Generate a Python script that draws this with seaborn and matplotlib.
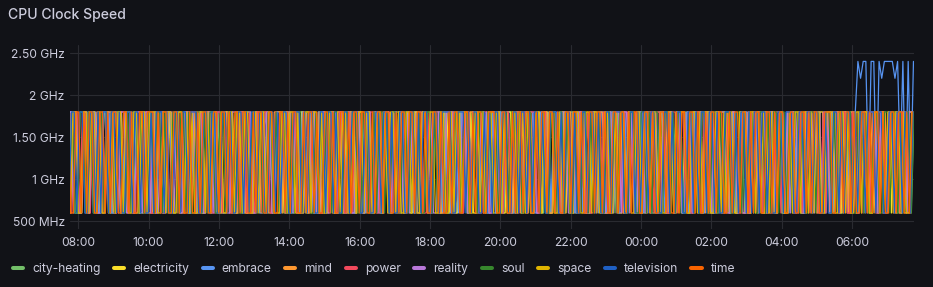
import matplotlib
matplotlib.use("Agg")
import matplotlib.pyplot as plt
import matplotlib.dates as mdates
from matplotlib.lines import Line2D
import seaborn as sns
import pandas as pd

# ---------------- data ----------------
START = "2024-01-01 07:46"
END = "2024-01-02 07:46"

series_names = ["city-heating", "electricity", "embrace", "mind", "power",
                "reality", "soul", "space", "television", "time"]
series_colors = ["#73BF69", "#FADE2A", "#5794F2", "#FF9830", "#F2495C",
                 "#B877D9", "#37872D", "#E0B400", "#1F60C4", "#FA6400"]
# each host is scraped at its own moment within the sampling interval (minutes)
series_offset_min = [0.0, 2.3, 0.9, 3.6, 1.4, 2.9, 0.4, 4.0, 1.8, 3.2]

ytick_values = [0.5, 1.0, 1.5, 2.0, 2.5]
ytick_labels = ["500 MHz", "1 GHz", "1.50 GHz", "2 GHz", "2.50 GHz"]

city_heating = [
    1.8,1.8,0.6,0.6,0.6,1.8,0.6,1.8,1.8,1.8,0.6,0.6,1.2,1.8,1.8,0.6,
    0.6,1.8,1.8,0.6,0.6,1.8,1.8,1.8,0.6,1.8,0.6,0.6,0.6,1.8,1.8,0.6,
    1.8,1.8,1.8,0.6,0.6,1.5,1.8,0.6,0.6,1.8,1.8,0.6,1.8,1.8,0.6,0.6,
    0.6,1.8,0.6,0.6,1.8,1.8,1.8,0.6,1.8,0.6,0.6,1.8,1.8,0.6,0.6,0.6,
    1.8,1.8,0.6,1.8,1.8,0.6,0.6,1.0,1.8,1.8,0.6,0.6,1.8,0.6,1.8,1.8,
    1.8,0.6,0.6,1.8,0.6,0.6,1.8,1.8,1.8,0.6,1.8,1.8,0.6,0.6,1.8,0.6,
    0.6,0.6,1.8,1.8,0.6,1.8,1.8,0.6,0.6,0.6,1.8,1.4,0.6,1.8,1.8,1.8,
    0.6,1.8,0.6,0.6,1.8,1.8,0.6,1.8,1.8,0.6,0.6,1.8,1.8,1.8,0.6,0.6,
    1.8,0.6,1.8,1.8,0.6,0.6,0.6,1.8,1.8,0.6,1.8,0.6,0.6,1.8,1.8,0.6,
    1.8,1.8,0.6,0.9,1.8,1.8,0.6,0.6,1.8,1.8,1.8,0.6,1.8,0.6,0.6,1.8,
    0.6,0.6,1.8,1.8,0.6,1.8,1.8,1.8,0.6,0.6,1.8,0.6,1.8,1.8,0.6,0.6,
    1.8,1.8,0.6,0.6,1.8,0.6,0.6,1.8,1.6,1.8,0.6,0.6,1.8,1.8,1.8,0.6,
    0.6,1.8,1.8,0.6,0.6,1.8,1.8,0.6,1.8,0.6,0.6,0.6,1.8,1.8,0.6,1.8,
    1.8,0.6,0.6,1.8,1.8,1.8,0.6,1.8,1.8,0.6,0.6,1.8,0.6,0.6,1.8,1.8,
    0.6,1.8,1.8,0.6,1.2,1.8,1.8,0.6,0.6,1.8,1.8,0.6,1.8,1.8,0.6,0.6,
    1.8,0.6,1.8,1.8,0.6,0.6,1.8,1.8,1.8,0.6,0.6,1.8,0.6,1.8,1.8,0.6,
    0.6,0.6,1.8,0.6,1.8,1.8,0.6,0.6,1.8,1.8,0.6,1.8,1.8,0.6,0.6,1.8,
    1.8,1.8,0.6,1.8,0.6,0.6,1.8,1.8,0.6,1.5,1.8,0.6,0.6,1.8,1.8,0.6,
    0.6,1.8,1.8,0.6,0.6,1.8,0.6,1.8,1.8,0.6,0.6,1.8,1.8,1.8,0.6,0.6,
    1.8,0.6,0.6,1.8,1.8,0.6,1.8,1.8,0.6,0.6,1.8,1.8,0.6,1.8,0.6,1.8,
]
electricity = [
    0.6,1.8,1.8,1.8,0.6,0.6,1.8,0.6,0.6,1.8,1.8,1.5,0.6,1.8,1.8,0.6,
    1.8,0.6,0.6,1.8,1.8,0.6,1.8,1.8,0.6,0.6,0.6,1.8,1.8,0.6,1.8,1.8,
    0.6,0.6,1.8,1.2,0.6,1.8,1.8,0.6,1.8,1.8,0.6,0.6,1.8,0.6,0.6,1.8,
    1.8,1.8,0.6,0.6,1.8,1.8,0.6,1.8,0.6,0.6,1.8,1.8,1.8,0.6,1.8,0.6,
    0.6,1.8,1.8,0.6,0.6,0.6,1.8,1.8,0.6,1.8,0.6,1.8,1.8,0.6,0.9,1.8,
    1.8,0.6,1.8,1.8,0.6,1.8,0.6,0.6,1.8,1.8,0.6,0.6,1.8,1.8,0.6,0.6,
    1.8,1.8,0.6,1.8,1.8,0.6,0.6,1.8,0.6,1.8,1.8,1.8,0.6,0.6,1.8,0.6,
    0.6,1.8,1.8,0.6,1.8,1.6,0.6,0.6,1.8,1.8,0.6,1.8,0.6,1.8,1.8,0.6,
    1.8,0.6,0.6,1.8,1.8,0.6,1.8,1.8,0.6,0.6,1.8,1.8,0.6,0.6,1.8,1.8,
    0.6,1.8,0.6,0.6,1.8,1.8,1.8,0.6,1.8,0.6,0.6,1.8,1.8,0.6,1.8,0.6,
    1.8,1.8,0.6,1.8,0.6,0.6,1.8,1.8,0.6,1.8,1.3,0.6,0.6,1.8,1.8,0.6,
    0.6,1.8,1.8,0.6,1.8,1.8,0.6,0.6,1.8,0.6,1.8,1.8,0.6,1.8,0.6,0.6,
    1.8,0.6,1.8,1.8,0.6,0.6,1.8,1.8,1.8,0.6,0.6,1.8,1.8,0.6,1.8,1.8,
    0.6,0.6,1.8,0.6,1.8,1.8,0.6,1.8,0.6,0.6,1.8,1.8,0.6,1.8,1.8,0.6,
    1.8,1.8,0.6,0.6,1.8,0.6,1.8,1.8,0.6,1.8,0.6,0.6,1.8,1.8,0.6,1.8,
    0.6,1.8,1.8,0.6,0.6,1.8,1.8,0.6,1.8,1.8,0.6,1.8,0.6,0.6,1.8,1.8,
    1.8,0.6,0.6,1.8,1.8,1.8,0.6,0.6,1.8,0.6,1.8,1.8,0.6,1.8,0.6,0.6,
    0.6,1.8,1.8,0.6,1.8,0.6,0.6,1.8,1.8,0.6,1.8,0.6,1.8,1.8,0.6,1.8,
    1.8,0.6,1.8,1.8,0.6,1.8,1.8,0.6,0.6,1.8,0.6,1.8,1.8,0.6,1.8,0.6,
    0.6,1.8,0.6,1.8,1.8,0.6,1.8,0.6,1.8,1.8,0.6,0.6,1.8,1.8,0.6,1.8,
]
embrace = [
    1.8,1.8,0.6,0.6,1.8,1.8,0.6,1.8,1.8,0.6,1.8,0.6,0.6,1.8,1.8,1.8,
    0.6,0.6,1.8,1.8,0.6,1.8,1.2,0.6,1.8,1.8,0.6,0.6,1.8,0.6,1.8,1.8,
    1.8,0.6,1.8,0.6,0.6,1.8,1.8,0.6,1.8,1.8,0.6,1.8,1.8,0.6,0.6,1.8,
    0.6,1.8,1.8,0.6,1.8,0.6,0.6,1.8,1.8,1.8,0.6,0.6,1.8,1.8,0.6,1.8,
    1.8,0.6,0.6,1.8,1.8,0.6,1.8,1.8,0.6,0.6,1.8,1.5,1.8,0.6,1.8,0.6,
    0.6,1.8,1.8,0.6,0.6,1.8,1.8,0.6,1.8,1.8,0.6,1.8,0.6,0.6,1.8,1.8,
    1.8,0.6,1.8,1.8,0.6,0.6,1.8,1.8,0.6,1.8,1.8,0.6,0.6,1.8,0.6,1.8,
    0.6,1.8,0.6,1.8,1.8,0.6,0.6,1.8,1.8,0.6,1.8,1.8,0.6,1.8,1.8,0.6,
    1.8,1.8,0.6,0.6,1.8,1.8,0.6,1.8,0.6,0.6,1.8,1.8,1.8,0.6,1.8,0.6,
    0.6,1.8,1.8,0.6,1.8,0.6,1.8,1.8,0.6,1.0,1.8,0.6,1.8,1.8,0.6,0.6,
    1.8,0.6,1.8,1.8,0.6,1.8,1.8,0.6,0.6,1.8,1.8,0.6,1.8,0.6,1.8,1.8,
    0.6,0.6,1.8,1.8,0.6,1.8,0.6,1.8,1.8,0.6,0.6,1.8,1.8,0.6,1.8,0.6,
    1.8,1.8,0.6,1.8,0.6,0.6,1.8,1.8,0.6,1.8,1.8,0.6,0.6,1.8,1.8,0.6,
    0.6,1.8,1.8,0.6,1.8,1.8,0.6,0.6,1.8,0.6,1.8,1.8,0.6,1.8,0.6,1.8,
    1.8,0.6,0.6,1.8,1.8,0.6,1.8,1.8,0.6,1.8,0.6,0.6,1.8,1.8,1.8,0.6,
    0.6,1.8,1.8,0.6,0.6,1.8,1.8,0.6,1.8,1.8,0.6,1.8,0.6,0.6,1.8,1.8,
    1.8,0.6,1.8,1.8,0.6,1.8,0.6,1.8,1.8,0.6,1.8,0.6,1.8,1.8,0.6,1.8,
    0.6,1.8,1.8,0.6,1.8,0.6,0.6,1.8,1.8,0.6,1.8,1.8,0.6,1.8,0.6,1.8,
    1.8,0.6,1.8,0.6,1.8,1.8,0.6,1.8,0.6,1.8,2.4,2.2,2.4,2.4,1.0,2.4,
    2.4,0.9,2.4,2.2,2.4,2.4,2.4,2.4,2.2,2.4,1.2,2.4,0.8,2.4,1.0,2.4,
]
mind = [
    1.8,0.6,1.8,1.8,0.6,0.6,1.8,1.8,0.6,1.8,0.6,1.8,1.8,0.6,0.6,1.8,
    1.8,1.8,0.6,1.8,0.6,0.6,1.8,1.4,0.6,1.8,1.8,0.6,1.8,1.8,0.6,0.6,
    0.6,1.8,1.8,0.6,1.8,1.8,0.6,0.6,1.8,1.8,0.6,1.8,0.6,1.8,1.8,0.6,
    1.8,0.6,0.6,1.8,1.8,0.6,1.8,1.8,1.8,0.6,0.6,1.8,1.8,0.6,1.8,0.6,
    0.6,1.8,1.8,0.6,0.6,1.8,0.6,1.8,1.8,0.6,1.8,1.8,0.6,0.6,1.8,1.8,
    1.8,0.6,1.8,1.8,0.6,1.8,1.8,0.6,0.6,1.8,1.2,0.6,1.8,1.8,0.6,1.8,
    0.6,0.6,1.8,1.8,0.6,0.6,1.8,1.8,0.6,1.8,0.6,1.8,1.8,0.6,1.8,1.8,
    1.8,1.8,0.6,0.6,1.8,1.8,0.6,1.8,1.8,0.6,0.6,1.8,0.6,1.8,1.8,0.6,
    0.6,1.8,1.8,0.6,1.8,0.6,1.8,1.8,0.6,0.6,1.8,1.8,1.8,0.6,0.6,1.8,
    1.8,0.6,0.6,1.8,1.8,0.6,1.8,0.6,1.8,1.8,0.6,0.6,1.8,1.8,0.6,1.8,
    1.8,1.8,0.6,1.8,0.6,1.8,1.8,0.6,0.6,1.8,1.8,0.6,1.8,0.6,0.6,1.8,
    0.6,1.8,1.8,0.6,1.8,1.8,0.6,0.6,1.8,0.6,1.8,1.8,0.6,1.8,1.8,0.6,
    1.8,0.6,1.8,1.8,0.6,0.6,1.8,1.8,0.6,1.8,1.8,0.6,0.6,1.8,0.6,1.8,
    1.8,1.8,0.6,0.6,1.8,1.8,0.6,1.8,1.8,0.6,1.8,0.6,1.8,1.8,0.6,0.6,
    0.6,1.8,1.8,0.6,1.8,0.6,0.6,1.8,1.8,1.8,0.6,1.8,0.6,0.6,1.8,1.8,
    1.8,0.6,1.8,1.8,0.6,1.8,1.8,0.6,0.6,1.8,0.6,1.8,1.8,0.6,1.8,0.6,
    0.6,1.8,0.6,1.8,1.8,0.6,1.8,1.8,0.6,0.6,1.8,1.8,0.6,1.8,1.8,0.6,
    1.8,1.8,0.6,0.6,1.8,1.8,0.6,1.8,0.6,1.8,1.8,0.6,1.8,0.6,0.6,1.8,
    0.6,1.8,1.8,0.6,0.6,1.8,1.8,0.6,1.8,1.8,0.6,1.8,0.6,1.8,1.8,0.6,
    1.8,0.6,1.8,1.8,0.6,1.8,0.6,1.8,1.8,0.6,1.8,1.8,0.6,0.6,1.8,1.8,
]
power = [
    0.6,0.6,1.8,1.8,0.6,1.8,1.8,0.6,0.6,1.8,0.6,1.8,1.8,0.6,1.8,0.6,
    1.8,0.6,0.6,1.8,1.8,1.8,0.6,1.8,0.6,0.6,1.8,1.8,0.6,1.8,1.8,0.6,
    0.6,1.8,1.8,0.6,0.6,1.8,0.6,1.8,1.8,0.6,1.8,0.6,0.6,1.8,1.8,1.8,
    1.8,0.6,1.8,0.6,1.8,1.8,0.6,0.6,1.8,1.8,0.6,1.1,1.8,0.6,0.6,1.8,
    0.6,1.8,1.8,0.6,1.8,0.6,0.6,1.8,1.8,0.6,1.8,1.8,0.6,0.6,1.8,0.6,
    1.8,1.8,0.6,0.6,1.8,1.8,0.6,1.8,0.6,1.8,1.8,0.6,1.8,1.8,0.6,0.6,
    0.6,1.8,0.6,1.8,1.8,0.6,1.8,1.8,0.6,0.6,1.8,0.6,1.8,1.8,0.6,1.8,
    1.8,0.6,1.8,1.8,0.6,0.6,1.8,0.6,1.8,1.8,0.6,1.8,0.6,0.6,1.8,1.8,
    0.6,1.8,1.8,0.6,1.8,1.8,0.6,0.6,1.8,0.6,1.8,1.8,0.6,1.8,0.6,0.6,
    1.8,1.8,0.6,1.8,0.6,0.6,1.8,1.8,0.6,1.8,1.8,0.6,0.6,1.8,1.8,0.6,
    0.6,1.8,1.8,0.6,0.6,1.8,1.8,0.6,1.8,0.6,0.6,1.8,1.8,0.6,1.8,1.8,
    1.8,0.6,0.6,1.8,1.8,0.6,1.8,1.8,0.6,1.8,0.6,0.6,1.8,1.8,0.6,1.8,
    0.6,1.8,1.8,0.6,1.8,0.6,0.6,1.8,1.8,0.6,1.8,1.8,0.6,0.6,1.8,0.6,
    1.8,0.6,1.8,1.8,0.6,1.8,1.8,0.6,0.6,1.8,0.6,1.8,1.8,0.6,1.8,1.8,
    0.6,1.8,0.6,0.6,1.8,1.8,0.6,1.8,1.8,0.6,1.8,0.6,0.6,1.8,1.8,0.6,
    1.8,1.8,0.6,1.8,0.6,1.8,1.8,0.6,0.6,1.8,1.8,0.6,1.8,0.6,0.6,1.8,
    0.6,0.6,1.8,1.8,0.6,1.8,0.6,1.8,1.8,0.6,0.6,1.8,1.8,0.6,1.8,0.6,
    1.8,1.8,0.6,0.6,1.8,0.6,1.8,1.8,0.6,1.8,1.8,0.6,0.6,1.8,0.6,1.8,
    0.6,1.8,1.8,0.6,1.8,1.8,0.6,0.6,1.8,0.6,1.8,1.8,0.6,1.8,1.8,0.6,
    1.8,0.6,0.6,1.8,1.8,0.6,1.8,1.8,0.6,1.8,0.6,1.8,1.8,0.6,0.6,1.8,
]
reality = [
    1.8,1.8,0.6,1.8,0.6,0.6,1.8,1.8,0.6,1.8,1.8,0.6,0.6,1.8,0.6,1.8,
    0.6,1.8,1.8,0.6,1.8,1.8,0.6,0.6,1.8,0.6,1.8,1.8,0.6,1.8,1.8,0.6,
    1.8,0.6,0.6,1.8,1.8,0.6,1.8,1.8,0.6,1.8,0.6,0.6,1.8,1.8,0.6,1.8,
    0.6,1.8,1.8,0.6,0.6,1.8,1.8,0.6,1.8,0.6,1.8,1.8,0.6,0.6,1.8,1.8,
    1.8,0.6,1.8,1.8,0.6,1.8,0.6,0.6,1.8,1.8,0.6,1.8,1.8,0.6,0.6,1.8,
    0.6,1.8,0.6,1.8,1.8,0.6,1.8,1.8,0.6,0.6,1.8,1.8,0.6,1.8,0.6,0.6,
    1.8,1.8,0.6,0.6,1.8,1.8,0.6,1.8,1.8,0.6,1.8,0.6,0.6,1.8,1.8,0.6,
    0.6,1.8,1.8,0.6,1.8,0.6,1.8,0.6,1.8,1.8,0.6,1.8,1.8,0.6,0.6,1.8,
    1.8,0.6,1.8,1.8,0.6,0.6,1.8,1.8,0.6,1.8,0.6,0.6,1.8,1.8,0.6,1.8,
    1.8,1.8,0.6,1.8,0.6,1.8,1.8,0.6,0.6,1.8,1.8,0.6,1.8,0.6,1.8,0.6,
    0.6,1.8,1.8,0.6,1.8,1.8,0.6,0.6,1.8,0.6,1.8,1.8,0.6,1.8,1.8,0.6,
    1.8,0.6,0.6,1.8,1.8,0.6,1.8,1.8,0.6,1.8,0.6,1.8,1.8,0.6,0.6,1.8,
    0.6,1.8,1.8,0.6,0.6,1.8,1.8,0.6,1.8,1.8,0.6,0.6,1.8,1.8,0.6,1.8,
    1.8,0.6,1.8,1.8,0.6,1.8,0.6,0.6,1.8,1.8,0.6,1.8,0.6,1.8,1.8,0.6,
    0.6,1.8,0.6,1.8,1.8,0.6,1.8,1.8,0.6,0.6,1.8,1.8,0.6,1.8,0.6,1.8,
    1.8,1.8,0.6,0.6,1.8,1.8,0.6,1.8,1.8,0.6,0.6,1.8,1.8,0.6,1.8,0.6,
    0.6,1.8,1.8,0.6,1.8,0.6,1.8,1.8,0.6,1.8,1.8,0.6,0.6,1.8,1.8,0.6,
    1.8,0.6,1.8,1.8,0.6,1.8,0.6,0.6,1.8,1.8,0.6,1.8,1.8,0.6,1.8,1.8,
    0.6,1.8,0.6,1.8,1.8,0.6,1.8,1.8,0.6,1.8,0.6,0.6,1.8,1.8,0.6,1.8,
    1.8,1.8,0.6,1.8,0.6,0.6,1.8,1.8,0.6,1.8,1.8,0.6,1.8,0.6,1.8,1.8,
]
soul = [
    0.6,1.8,0.6,0.6,1.8,1.8,0.6,1.8,1.8,0.6,0.6,1.8,1.8,0.6,1.8,0.6,
    1.8,0.6,1.8,1.8,0.6,0.6,1.8,0.6,1.8,1.8,0.6,1.8,0.6,0.6,1.8,1.8,
    0.6,1.8,1.8,0.6,1.8,0.6,0.6,1.8,1.8,0.6,1.8,1.8,0.6,1.8,0.6,0.6,
    1.8,1.8,0.6,1.8,0.6,1.8,1.8,0.6,0.6,1.8,1.8,0.6,1.8,1.8,0.6,1.8,
    0.6,0.6,1.8,1.8,0.6,1.8,1.8,0.6,1.8,0.6,0.6,1.8,1.8,0.6,1.8,0.6,
    1.8,1.8,0.6,0.6,1.8,0.6,1.8,1.8,0.6,1.8,1.8,0.6,0.6,1.8,0.6,1.8,
    0.6,1.8,1.8,0.6,1.8,1.8,0.6,0.6,1.8,1.8,0.6,1.8,1.8,0.6,0.6,1.8,
    1.8,0.6,0.6,1.8,0.6,1.8,1.8,0.6,1.8,0.6,1.8,1.8,0.6,0.6,1.8,1.8,
    0.6,1.8,1.8,0.6,1.8,0.6,0.6,1.8,1.8,0.6,1.8,0.6,1.8,1.8,0.6,0.6,
    1.8,0.6,1.8,1.8,0.6,1.8,1.8,0.6,0.6,1.8,0.6,1.8,1.8,0.6,1.8,1.8,
    0.6,1.8,0.6,0.6,1.8,1.8,0.6,1.8,1.8,0.6,1.8,0.6,0.6,1.8,1.8,0.6,
    1.8,1.8,0.6,1.8,0.6,0.6,1.8,1.8,0.6,1.8,1.8,0.6,1.8,0.6,0.6,1.8,
    0.6,0.6,1.8,1.8,0.6,1.8,0.6,1.8,1.8,0.6,0.6,1.8,1.8,0.6,1.8,0.6,
    1.8,1.8,0.6,0.6,1.8,1.8,0.6,0.6,1.8,1.8,0.6,1.8,0.6,1.8,1.8,0.6,
    0.6,1.8,1.8,0.6,1.8,0.6,1.8,1.8,0.6,0.6,1.8,1.8,0.6,1.8,0.6,1.8,
    1.8,0.6,0.6,1.8,1.8,0.6,1.8,0.6,1.8,1.8,0.6,0.6,1.8,1.8,0.6,1.8,
    0.6,1.8,1.8,0.6,0.6,1.8,1.8,0.6,1.8,0.6,1.8,1.8,0.6,1.8,1.8,0.6,
    1.8,0.6,1.8,1.8,0.6,1.8,0.6,0.6,1.8,1.8,0.6,1.8,0.6,0.6,1.8,1.8,
    0.6,1.8,0.6,1.8,1.8,0.6,1.8,1.8,0.6,0.6,1.8,1.8,0.6,1.8,0.6,0.6,
    1.8,1.8,0.6,0.6,1.8,1.8,0.6,1.8,1.8,0.6,1.8,0.6,1.8,1.8,0.6,1.8,
]
space = [
    1.8,0.6,1.8,1.8,0.6,0.6,1.8,1.8,0.6,1.8,1.8,0.6,1.8,0.6,0.6,1.8,
    0.6,1.8,0.6,1.8,1.8,0.6,1.8,0.6,0.6,1.8,1.8,0.6,1.8,1.8,0.6,1.8,
    1.8,1.8,0.6,0.6,1.8,0.6,1.8,1.8,0.6,0.6,1.8,1.8,0.6,1.8,0.6,1.8,
    0.6,0.6,1.8,1.8,0.6,1.8,0.6,1.8,1.8,0.6,1.8,0.6,0.6,1.8,1.8,0.6,
    1.8,1.8,0.6,1.8,1.8,0.6,0.6,1.8,0.6,1.8,1.8,0.6,1.8,1.8,0.6,0.6,
    0.6,1.8,1.8,0.6,1.8,1.8,0.6,1.8,0.6,0.6,1.8,1.8,0.6,1.8,1.8,0.6,
    1.8,0.6,0.6,1.8,1.8,0.6,1.8,0.6,1.8,1.8,0.6,0.6,1.8,0.6,1.8,1.8,
    0.6,1.8,1.8,0.6,0.6,1.8,1.8,0.6,1.8,0.6,1.8,1.8,0.6,1.8,0.6,0.6,
    1.8,1.8,0.6,1.8,0.6,0.6,1.8,1.8,0.6,1.8,1.8,0.6,0.6,1.8,1.8,0.6,
    0.6,1.8,0.6,1.8,1.8,0.6,1.8,1.8,0.6,0.6,1.8,1.8,0.6,1.8,0.6,1.8,
    1.8,0.6,1.8,1.8,0.6,1.8,0.6,0.6,1.8,1.8,0.6,1.8,1.8,0.6,1.8,0.6,
    0.6,1.8,1.8,0.6,1.8,0.6,1.8,1.8,0.6,0.6,1.8,0.6,1.8,1.8,0.6,1.8,
    1.8,1.8,0.6,0.6,1.8,1.8,0.6,1.8,1.8,0.6,0.6,1.8,1.8,0.6,0.6,1.8,
    0.6,1.8,1.8,0.6,1.8,0.6,0.6,1.8,1.8,0.6,1.8,1.8,0.6,1.8,1.8,0.6,
    1.8,0.6,0.6,1.8,1.8,0.6,1.8,0.6,1.8,1.8,0.6,0.6,1.8,1.8,0.6,1.8,
    0.6,1.8,1.8,0.6,0.6,1.8,1.8,0.6,1.8,0.6,1.8,1.8,0.6,0.6,1.8,1.8,
    1.8,0.6,1.8,1.8,0.6,1.8,0.6,1.8,1.8,0.6,1.8,0.6,0.6,1.8,1.8,0.6,
    0.6,1.8,0.6,1.8,1.8,0.6,1.8,1.8,0.6,1.8,0.6,1.8,1.8,0.6,0.6,1.8,
    1.8,1.8,0.6,0.6,1.8,1.8,0.6,1.8,0.6,0.6,1.8,1.8,0.6,1.8,1.8,0.6,
    0.6,1.8,1.8,0.6,1.8,0.6,1.8,1.8,0.6,1.8,1.8,0.6,1.8,0.6,0.6,1.8,
]
television = [
    0.6,1.8,1.8,0.6,1.8,1.8,0.6,0.6,1.8,1.8,0.6,1.8,0.6,1.8,1.8,0.6,
    1.8,1.8,0.6,1.8,0.6,0.6,1.8,1.8,0.6,1.8,1.8,0.6,1.8,0.6,0.6,1.8,
    0.6,1.8,1.8,1.8,0.6,1.8,0.6,0.6,1.8,1.8,0.6,1.8,1.8,0.6,1.8,1.8,
    1.8,0.6,0.6,1.8,1.8,0.6,1.8,1.8,0.6,0.6,1.8,1.8,0.6,1.8,0.6,0.6,
    1.8,1.8,0.6,1.8,0.6,1.8,1.8,0.6,1.8,1.8,0.6,0.6,1.8,1.8,0.6,1.8,
    0.6,1.8,1.8,0.6,0.6,1.8,1.8,1.8,0.6,1.8,0.6,1.8,1.8,0.6,0.6,1.8,
    1.8,0.6,1.8,1.8,0.6,1.8,0.6,0.6,1.8,1.8,0.6,1.8,1.8,1.8,0.6,0.6,
    1.8,1.8,0.6,0.6,1.8,1.8,0.6,1.8,1.8,0.6,1.8,0.6,0.6,1.8,1.8,0.6,
    0.6,1.8,1.8,0.6,1.8,0.6,1.8,1.8,0.6,0.6,1.8,1.8,0.6,1.8,1.8,1.8,
    1.8,0.6,0.6,1.8,1.8,1.8,0.6,1.8,0.6,1.8,1.8,0.6,0.6,1.8,0.6,1.8,
    0.6,1.8,1.8,0.6,1.8,1.8,0.6,0.6,1.8,1.8,0.6,1.8,1.8,0.6,1.8,0.6,
    1.8,1.8,0.6,1.8,0.6,0.6,1.8,1.8,1.8,0.6,1.8,0.6,1.8,1.8,0.6,1.8,
    0.6,0.6,1.8,1.8,0.6,1.8,1.8,0.6,1.8,0.6,0.6,1.8,1.8,0.6,1.8,1.8,
    1.8,1.8,0.6,0.6,1.8,1.8,0.6,1.8,0.6,1.8,1.8,0.6,1.8,1.8,0.6,0.6,
    0.6,1.8,1.8,0.6,1.8,0.6,1.8,1.8,0.6,0.6,1.8,1.8,0.6,1.8,0.6,1.8,
    1.8,0.6,1.8,1.8,0.6,1.8,0.6,0.6,1.8,1.8,1.8,0.6,1.8,0.6,1.8,1.8,
    0.6,1.8,0.6,1.8,1.8,0.6,1.8,1.8,0.6,1.8,0.6,0.6,1.8,1.8,0.6,1.8,
    1.8,1.8,0.6,0.6,1.8,1.8,0.6,1.8,1.8,0.6,1.8,1.8,0.6,0.6,1.8,0.6,
    0.6,1.8,1.8,0.6,1.8,0.6,1.8,1.8,0.6,1.8,0.6,1.8,1.8,0.6,1.8,1.8,
    1.8,0.6,1.8,1.8,0.6,0.6,1.8,1.8,0.6,1.8,1.8,0.6,1.8,1.8,0.6,1.8,
]
time_series = [
    1.8,0.6,0.6,1.8,1.8,0.6,1.8,0.6,1.8,1.8,0.6,0.6,1.8,1.8,0.6,1.8,
    0.6,1.8,1.8,0.6,0.6,1.8,1.8,0.6,1.8,0.6,0.6,1.8,1.8,0.6,1.8,1.8,
    1.8,0.6,1.8,0.6,1.8,1.8,0.6,0.6,1.8,1.8,0.6,1.8,0.6,0.6,1.8,0.6,
    0.6,1.8,0.6,1.8,1.8,0.6,0.6,1.8,1.8,0.6,1.8,1.8,0.6,1.8,0.6,1.8,
    1.8,0.6,1.8,1.8,0.6,0.6,1.8,0.6,1.8,1.8,0.6,0.6,1.8,1.8,0.6,0.6,
    1.8,1.8,0.6,1.8,0.6,1.8,1.8,0.6,0.6,1.8,0.6,1.8,1.8,0.6,1.8,0.6,
    0.6,1.8,1.8,0.6,1.8,0.6,0.6,1.8,1.8,0.6,1.8,0.6,1.8,1.8,0.6,1.8,
    1.8,0.6,0.6,1.8,0.6,1.8,1.8,0.6,1.8,1.8,0.6,0.6,1.8,0.6,1.8,1.8,
    0.6,1.8,1.8,0.6,1.8,1.8,0.6,1.8,0.6,0.6,1.8,1.8,0.6,1.8,0.6,0.6,
    1.8,0.6,1.8,1.8,0.6,0.6,1.8,1.8,0.6,1.8,0.6,1.8,1.8,0.6,0.6,1.8,
    1.8,1.8,0.6,0.6,1.8,1.8,0.6,0.6,1.8,0.6,1.8,1.8,0.6,1.8,1.8,0.6,
    0.6,1.8,0.6,1.8,1.8,0.6,1.8,1.8,0.6,1.8,0.6,0.6,1.8,1.8,0.6,1.8,
    1.8,0.6,1.8,0.6,0.6,1.8,1.8,0.6,1.8,1.8,0.6,1.8,0.6,0.6,1.8,1.8,
    0.6,1.8,1.8,0.6,1.8,0.6,1.8,1.8,0.6,0.6,1.8,1.8,0.6,1.8,0.6,0.6,
    1.8,1.8,0.6,1.8,0.6,0.6,1.8,0.6,1.8,1.8,0.6,1.8,1.8,0.6,1.8,0.6,
    0.6,1.8,0.6,1.8,1.8,0.6,1.8,1.8,0.6,0.6,1.8,0.6,1.8,1.8,0.6,1.8,
    1.8,0.6,1.8,0.6,1.8,1.8,0.6,0.6,1.8,1.8,0.6,1.8,0.6,1.8,1.8,0.6,
    0.6,1.8,1.8,0.6,0.6,1.8,1.8,0.6,1.8,0.6,1.8,1.8,0.6,0.6,1.8,1.8,
    1.8,0.6,0.6,1.8,1.8,0.6,1.8,1.8,0.6,1.8,0.6,0.6,1.8,1.8,0.6,1.8,
    0.6,1.8,1.8,0.6,1.8,0.6,0.6,1.8,1.8,0.6,1.8,1.8,0.6,1.8,0.6,1.8,
]

series_values = [city_heating, electricity, embrace, mind, power,
                 reality, soul, space, television, time_series]

# ---------------- build long-form table ----------------
frames = []
for name, vals, off in zip(series_names, series_values, series_offset_min):
    t = pd.date_range(START, END, periods=len(vals)) - pd.Timedelta(minutes=off)
    frames.append(pd.DataFrame({"time": t, "ghz": vals, "series": name}))
df = pd.concat(frames, ignore_index=True)

# ---------------- style ----------------
BG = "#111217"
TEXT = "#ccccdc"
GRID = "#2a2b31"

sns.set_theme(style="dark", rc={
    "axes.facecolor": BG, "figure.facecolor": BG, "savefig.facecolor": BG,
    "grid.color": GRID, "text.color": TEXT, "xtick.color": TEXT,
    "ytick.color": TEXT, "axes.edgecolor": BG,
})
plt.rcParams["font.family"] = ["Inter", "DejaVu Sans"]

W, H = 933, 287
fig = plt.figure(figsize=(W / 100, H / 100), dpi=100)
ax = fig.add_axes([70 / W, 1 - 229 / H, 844 / W, 184 / H])
ax.set_facecolor(BG)

sns.lineplot(data=df, x="time", y="ghz", hue="series", hue_order=series_names,
             palette=series_colors, estimator=None, errorbar=None, sort=False,
             linewidth=0.9, legend=False, ax=ax)

ax.set_xlim(pd.Timestamp(START), pd.Timestamp(END))
ax.set_ylim(0.41, 2.595)
ax.set_yticks(ytick_values)
ax.set_yticklabels(ytick_labels)
ax.xaxis.set_major_locator(mdates.HourLocator(byhour=range(0, 24, 2)))
ax.xaxis.set_major_formatter(mdates.DateFormatter("%H:%M"))
ax.set_xlabel("")
ax.set_ylabel("")
ax.grid(True, color=GRID, linewidth=0.8)
for s in ax.spines.values():
    s.set_visible(False)
ax.tick_params(axis="y", length=0, pad=3.8, labelsize=8.7, colors=TEXT)
ax.tick_params(axis="x", length=3.8, width=0.8, color=GRID, pad=1.8,
               labelsize=8.7, labelcolor=TEXT)

fig.text(8 / W, 1 - 18.5 / H, "CPU Clock Speed", fontsize=10.1,
         fontweight="medium", color=TEXT, va="baseline", ha="left")

handles = [Line2D([], [], color=c, linewidth=2.9, solid_capstyle="round")
           for c in series_colors]
fig.legend(handles, series_names, ncol=len(series_names), loc="center left",
           bbox_to_anchor=(13 / W, 1 - 269 / H), frameon=False, fontsize=8.7,
           handlelength=0.85, handletextpad=0.75, columnspacing=1.1,
           borderpad=0, borderaxespad=0, labelcolor=TEXT)

fig.savefig("out.png", dpi=100, facecolor=BG)
